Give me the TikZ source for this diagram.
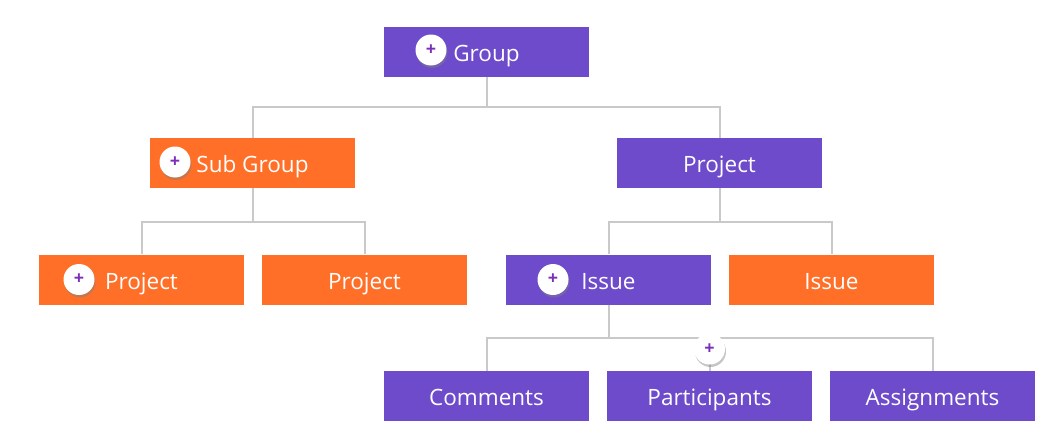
\documentclass[tikz,border=0pt]{standalone}
\usepackage{fontspec}
\setmainfont{Open Sans}
\usetikzlibrary{shadows}
\definecolor{boxpurple}{HTML}{6D4BCB}
\definecolor{boxorange}{HTML}{FF6F28}
\definecolor{linegray}{HTML}{C9C9C9}
\definecolor{pluspurple}{HTML}{7B2FB8}
\tikzset{
  box/.style={rectangle, minimum width=205pt, minimum height=50pt, inner sep=0pt,
    text=white, font=\fontsize{22.5}{26}\selectfont, text height=19pt, text depth=0pt},
  pbox/.style={box, fill=boxpurple},
  obox/.style={box, fill=boxorange},
  conn/.style={draw=linegray, line width=2pt},
  plusbtn/.style={circle, fill=white, minimum size=31pt, inner sep=0pt,
    text=pluspurple, font=\fontsize{18}{18}\selectfont\bfseries,
    drop shadow={opacity=0.45, shadow xshift=1pt, shadow yshift=-2.5pt}},
}
\begin{document}
\begin{tikzpicture}[x=1pt,y=-1pt]
\useasboundingbox (0,0) rectangle (1060,429);
% nodes
\node[pbox] (g) at (486.5,52) {Group};
\node[obox] (sg) at (252.5,163) {Sub Group};
\node[pbox] (p) at (719.5,163) {Project};
\node[obox] (p1) at (141.5,279.5) {Project};
\node[obox] (p2) at (364.5,279.5) {Project};
\node[pbox] (i1) at (608.5,279.5) {Issue};
\node[obox] (i2) at (831.5,279.5) {Issue};
\node[pbox] (c) at (486.5,396) {Comments};
\node[pbox] (pa) at (709.5,396) {Participants};
\node[pbox] (a) at (932.5,396) {Assignments};
% connectors
\draw[conn] (g.south) -- ++(0,30) coordinate (gj);
\draw[conn] (gj) -| (sg.north);
\draw[conn] (gj) -| (p.north);
\draw[conn] (sg.south) -- ++(0,34) coordinate (sj);
\draw[conn] (sj) -| (p1.north);
\draw[conn] (sj) -| (p2.north);
\draw[conn] (p.south) -- ++(0,34) coordinate (pj);
\draw[conn] (pj) -| (i1.north);
\draw[conn] (pj) -| (i2.north);
\draw[conn] (i1.south) -- ++(0,33) coordinate (ij);
\draw[conn] (ij) -| (c.north);
\draw[conn] (ij) -| (a.north);
\draw[conn] (ij) -| (pa.north);
% plus buttons
\node[plusbtn] (bg) at ([xshift=-55.5pt,yshift=2pt]g.center) {+};
\node[plusbtn] (bsg) at ([xshift=-77.5pt,yshift=1pt]sg.center) {+};
\node[plusbtn] (bp1) at ([xshift=-62.5pt,yshift=0pt]p1.center) {+};
\node[plusbtn] (bi1) at ([xshift=-55.5pt,yshift=0pt]i1.center) {+};
\node[plusbtn] (bpa) at (709.5,349) {+};
\end{tikzpicture}
\end{document}
